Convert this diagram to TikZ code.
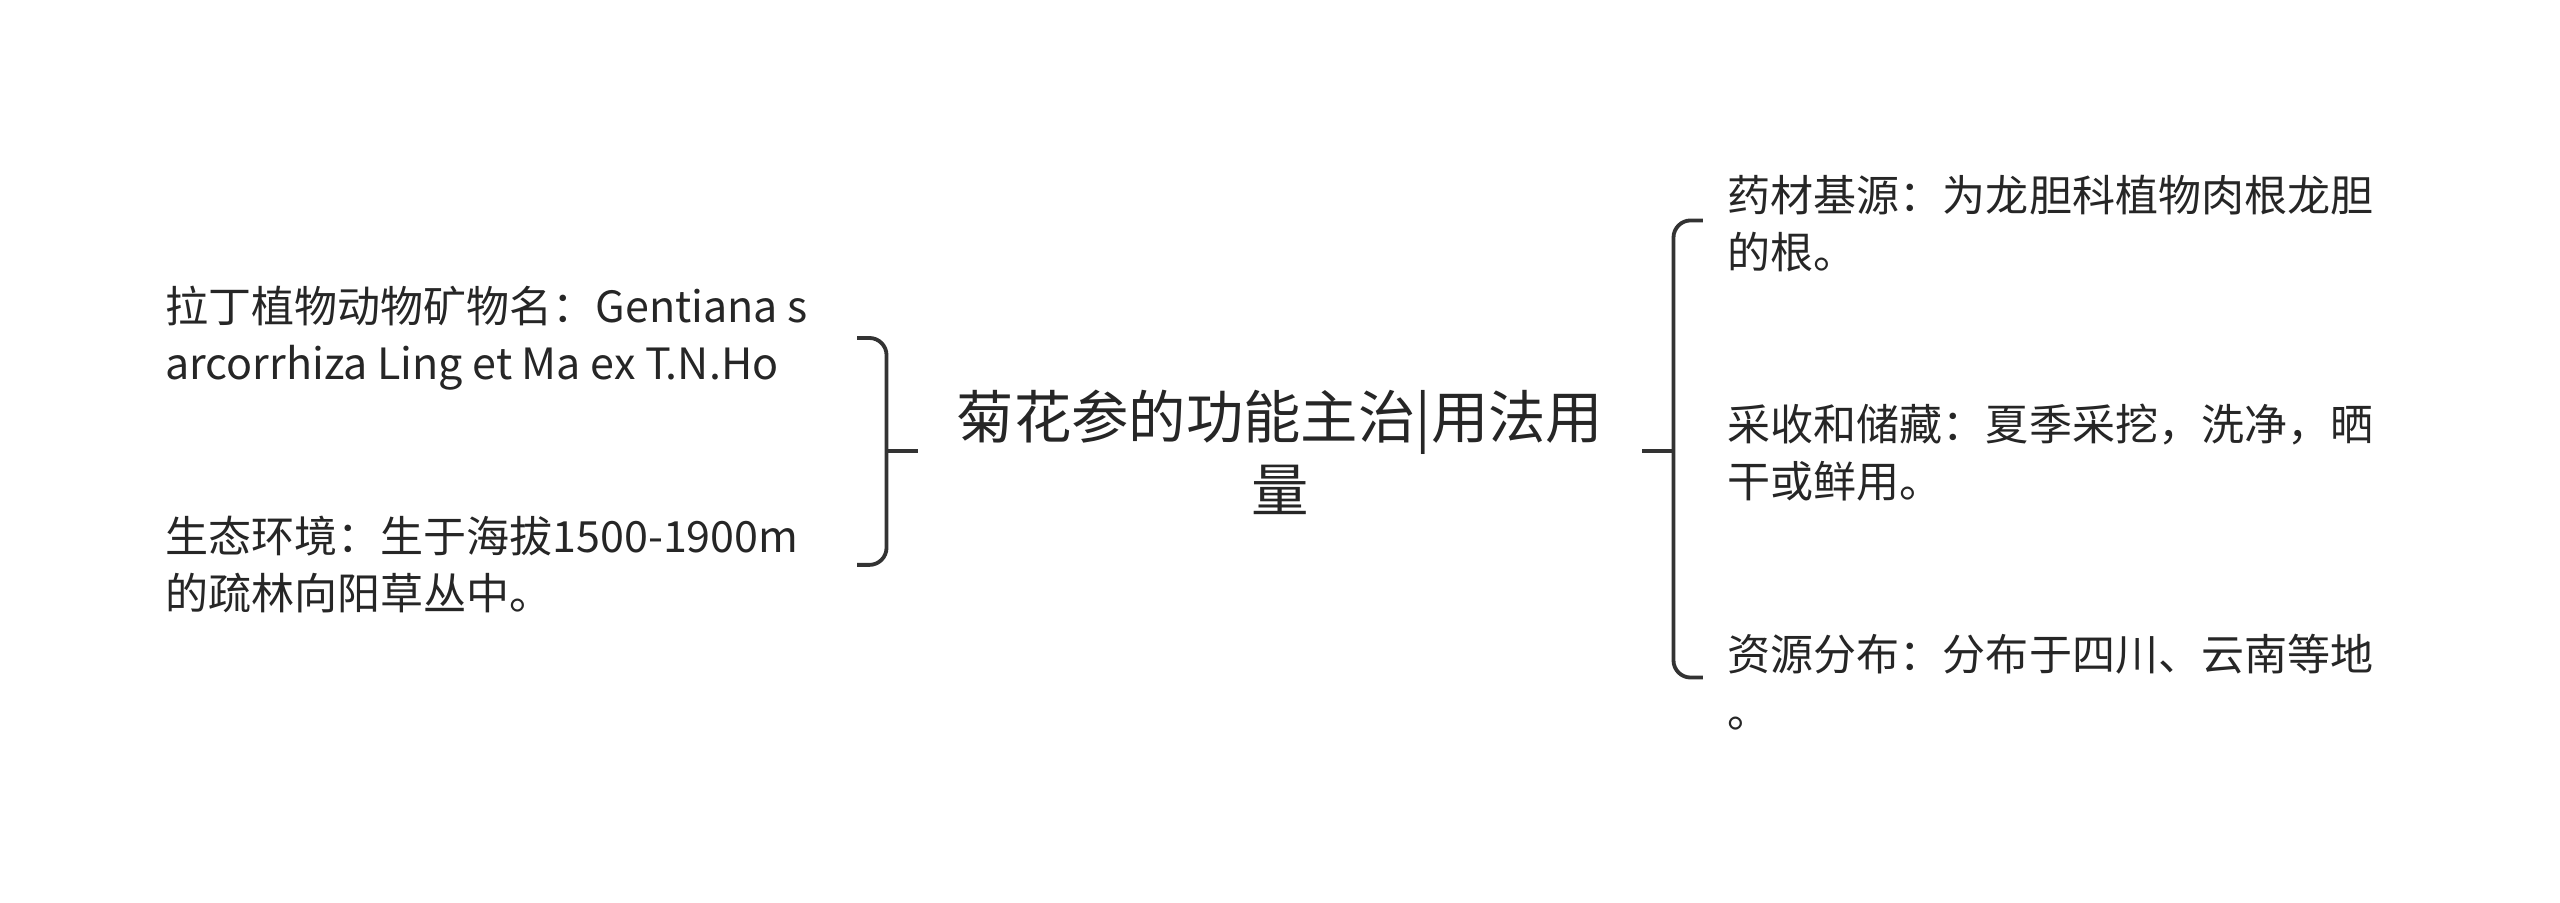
\documentclass[tikz,border=0pt]{standalone}
\usepackage{fontspec}
\setmainfont{Noto Sans CJK SC}
\begin{document}
\begin{tikzpicture}[x=0.03cm,y=-0.03cm,
  leaf/.style={anchor=west,align=left,inner sep=0pt,font=\fontsize{22.5}{29.8}\selectfont,text=black!85},
  root/.style={align=center,inner sep=0pt,font=\fontsize{30}{38}\selectfont,text=black!85},
  br/.style={line width=2pt,rounded corners=9pt,draw=black!80}]
\useasboundingbox (0,0) rectangle (1568,553);
\node[leaf] (l1) at (101,207) {拉丁植物动物矿物名：Gentiana s\\arcorrhiza Ling et Ma ex T.N.Ho};
\node[leaf] (l2) at (101,346) {生态环境：生于海拔1500-1900m\\的疏林向阳草丛中。};
\node[root] (c) at (784,277) {菊花参的功能主治|用法用\\量};
\node[leaf] (r1) at (1058,137) {药材基源：为龙胆科植物肉根龙胆\\的根。};
\node[leaf] (r2) at (1058,277) {采收和储藏：夏季采挖，洗净，晒\\干或鲜用。};
\node[leaf] (r3) at (1058,418) {资源分布：分布于四川、云南等地\\。};
\coordinate (lb) at (562,276);
\coordinate (rb) at (1006,276);
\draw[br] (525,207) -- (543,207) -- (543,346) -- (525,346);
\draw[br] (543,276) -- (lb);
\draw[br] (1043,135) -- (1025,135) -- (1025,415) -- (1043,415);
\draw[br] (rb) -- (1025,276);
\end{tikzpicture}
\end{document}
